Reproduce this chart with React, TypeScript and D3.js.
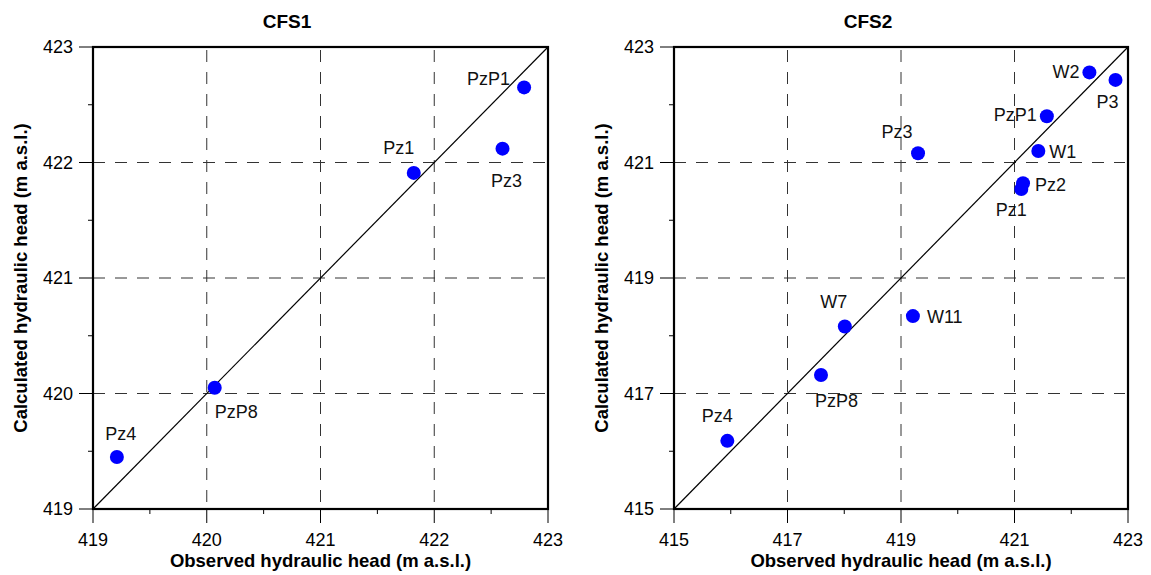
import React from 'react';
import * as d3 from 'd3';

// CFS1 wells: observed vs calculated hydraulic head (m a.s.l.)
const cfs1Wells = ['PzP1', 'Pz3', 'Pz1', 'PzP8', 'Pz4'];
const cfs1Observed = [422.79, 422.6, 421.82, 420.07, 419.21];
const cfs1Calculated = [422.65, 422.12, 421.91, 420.05, 419.45];
const cfs1Ticks = [419, 420, 421, 422, 423];
const cfs1Minor = [419.5, 420.5, 421.5, 422.5];

// CFS2 wells
const cfs2Wells = ['W2', 'P3', 'PzP1', 'W1', 'Pz3', 'Pz2', 'Pz1', 'W7', 'W11', 'PzP8', 'Pz4'];
const cfs2Observed = [422.32, 422.78, 421.57, 421.42, 419.3, 421.15, 421.12, 418.01, 419.21, 417.59, 415.94];
const cfs2Calculated = [422.56, 422.43, 421.8, 421.2, 421.16, 420.64, 420.54, 418.16, 418.34, 417.32, 416.18];
const cfs2Ticks = [415, 417, 419, 421, 423];
const cfs2Minor = [416, 418, 420, 422];

// label placement next to each dot: dx, dy, anchor
const cfs1LabelPos: Record<string, [number, number, string]> = {
  PzP1: [-14, -2, 'end'],
  Pz3: [4, 38, 'middle'],
  Pz1: [-15, -19, 'middle'],
  PzP8: [0, 30, 'start'],
  Pz4: [4, -17, 'middle'],
};
const cfs2LabelPos: Record<string, [number, number, string]> = {
  W2: [-10, 6, 'end'],
  P3: [-8, 28, 'middle'],
  PzP1: [-10, 5, 'end'],
  W1: [11, 7, 'start'],
  Pz3: [-21, -15, 'middle'],
  Pz2: [12, 8, 'start'],
  Pz1: [-10, 27, 'middle'],
  W7: [-11, -19, 'middle'],
  W11: [14, 7, 'start'],
  PzP8: [-6, 32, 'start'],
  Pz4: [-10, -19, 'middle'],
};

const FONT = '"Liberation Sans", Arial, sans-serif';
const TOP = 47;
const BOTTOM = 509;

type PanelProps = {
  title: string;
  titleX: number;
  left: number;
  right: number;
  wells: string[];
  observed: number[];
  calculated: number[];
  ticks: number[];
  minor: number[];
  labelPos: Record<string, [number, number, string]>;
};

const Panel = ({ title, titleX, left, right, wells, observed, calculated, ticks, minor, labelPos }: PanelProps) => {
  const domain = d3.extent(ticks) as [number, number];
  const x = d3.scaleLinear().domain(domain).range([left, right]);
  const y = d3.scaleLinear().domain(domain).range([BOTTOM, TOP]);
  const inner = ticks.slice(1, -1);
  const line = d3.line<number>().x(d => x(d)).y(d => y(d));

  return (
    <g fontFamily={FONT}>
      <text x={titleX} y={28} textAnchor="middle" fontSize={19} fontWeight="bold">{title}</text>

      {/* dashed grid */}
      {inner.map(t => (
        <line key={'gx' + t} x1={x(t)} x2={x(t)} y1={TOP + 3} y2={BOTTOM} stroke="#333" strokeWidth={1} strokeDasharray="12,10" />
      ))}
      {inner.map(t => (
        <line key={'gy' + t} x1={left} x2={right - 3} y1={y(t)} y2={y(t)} stroke="#333" strokeWidth={1} strokeDasharray="12,10" />
      ))}

      {/* 1:1 line */}
      <path d={line(domain) || ''} stroke="#000" strokeWidth={1.2} fill="none" />

      {/* frame */}
      <rect x={left} y={TOP} width={right - left} height={BOTTOM - TOP} fill="none" stroke="#000" strokeWidth={2.2} />

      {/* ticks */}
      {ticks.map(t => (
        <g key={'t' + t}>
          <line x1={x(t)} x2={x(t)} y1={BOTTOM} y2={BOTTOM + 14} stroke="#000" strokeWidth={1} />
          <text x={x(t)} y={546} textAnchor="middle" fontSize={18}>{t}</text>
          <line x1={left - 14} x2={left} y1={y(t)} y2={y(t)} stroke="#000" strokeWidth={1} />
          <text x={left - 20} y={y(t)} dy="0.35em" textAnchor="end" fontSize={18}>{t}</text>
        </g>
      ))}
      {minor.map(t => (
        <g key={'m' + t}>
          <line x1={x(t)} x2={x(t)} y1={BOTTOM} y2={BOTTOM + 5} stroke="#000" strokeWidth={1} />
          <line x1={left - 5} x2={left} y1={y(t)} y2={y(t)} stroke="#000" strokeWidth={1} />
        </g>
      ))}

      {/* axis titles */}
      <text x={(left + right) / 2} y={567} textAnchor="middle" fontSize={18.5} fontWeight="bold">
        Observed hydraulic head (m a.s.l.)
      </text>
      <text
        transform={`translate(${left - 72},${(TOP + BOTTOM) / 2}) rotate(-90)`}
        textAnchor="middle"
        dy="0.35em"
        fontSize={18.5}
        fontWeight="bold"
      >
        Calculated hydraulic head (m a.s.l.)
      </text>

      {/* points */}
      {wells.map((w, i) => (
        <circle key={'c' + w} cx={x(observed[i])} cy={y(calculated[i])} r={7} fill="#0000ff" />
      ))}
      {wells.map((w, i) => {
        const p = labelPos[w] || [8, -8, 'start'];
        return (
          <text key={'l' + w} x={x(observed[i]) + p[0]} y={y(calculated[i]) + p[1]} textAnchor={p[2]} fontSize={18} fill="#111">
            {w}
          </text>
        );
      })}
    </g>
  );
};

export default function App() {
  return (
    <svg width={1151} height={575} style={{ position: 'absolute', left: 0, top: 0, background: '#fff' }}>
      <rect width={1151} height={575} fill="#fff" />
      <Panel
        title="CFS1"
        titleX={287}
        left={93}
        right={548}
        wells={cfs1Wells}
        observed={cfs1Observed}
        calculated={cfs1Calculated}
        ticks={cfs1Ticks}
        minor={cfs1Minor}
        labelPos={cfs1LabelPos}
      />
      <Panel
        title="CFS2"
        titleX={868}
        left={674}
        right={1128}
        wells={cfs2Wells}
        observed={cfs2Observed}
        calculated={cfs2Calculated}
        ticks={cfs2Ticks}
        minor={cfs2Minor}
        labelPos={cfs2LabelPos}
      />
    </svg>
  );
}
